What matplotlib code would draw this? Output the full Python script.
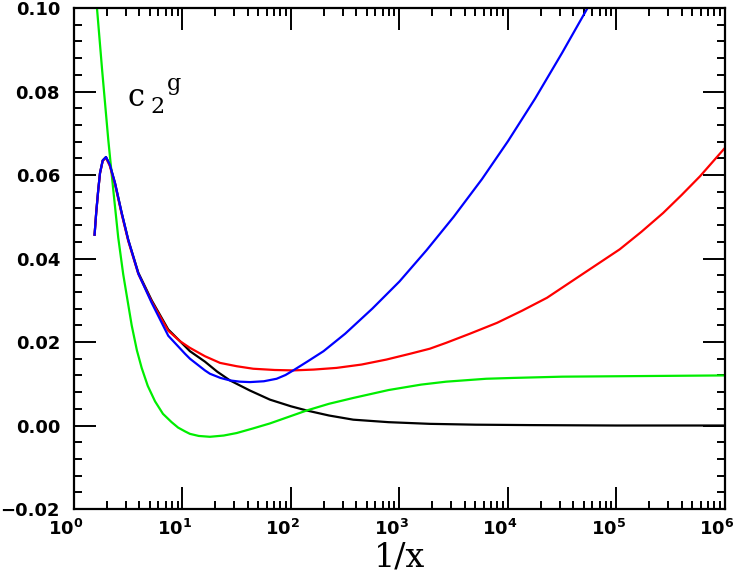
import numpy as np
import matplotlib
matplotlib.use('Agg')
import matplotlib.pyplot as plt
import matplotlib.transforms as mtrans
from matplotlib.ticker import FixedLocator, NullFormatter, MultipleLocator

# values, as (log10(1/x), c2g)
black_lx = [0.19, 0.205, 0.224, 0.24, 0.265, 0.295, 0.33, 0.378, 0.44, 0.50, 0.593, 0.716,
            0.869, 0.977, 1.069, 1.207, 1.32, 1.438, 1.62, 1.806, 2.0, 2.145, 2.35, 2.574,
            2.9, 3.28, 3.7, 4.2, 5.0, 6.0]
black_y = [0.0457, 0.051, 0.0565, 0.0605, 0.0635, 0.0643, 0.0625, 0.0581, 0.0509, 0.0445,
           0.0366, 0.0300, 0.0230, 0.0202, 0.0178, 0.0153, 0.0129, 0.0108, 0.0084, 0.0062,
           0.0046, 0.0036, 0.0024, 0.0014, 0.0008, 0.0004, 0.0002, 0.0001, 0.0, 0.0]

red_lx = [0.19, 0.205, 0.224, 0.24, 0.265, 0.295, 0.33, 0.378, 0.44, 0.50, 0.593, 0.716,
          0.869, 0.977, 1.069, 1.207, 1.346, 1.5, 1.652, 1.85, 2.021, 2.21, 2.42, 2.65,
          2.88, 3.1, 3.28, 3.43, 3.65, 3.9, 4.13, 4.36, 4.66, 5.03, 5.23, 5.43, 5.6, 5.77, 6.0]
red_y = [0.0457, 0.051, 0.0565, 0.0604, 0.0634, 0.0641, 0.0622, 0.0578, 0.0506, 0.0442,
         0.0363, 0.0297, 0.0227, 0.0202, 0.0186, 0.0166, 0.0150, 0.0142, 0.0136, 0.0133,
         0.0132, 0.0134, 0.0138, 0.0146, 0.0158, 0.0172, 0.0184, 0.0198, 0.0220, 0.0246,
         0.0275, 0.0306, 0.0358, 0.0422, 0.0464, 0.0509, 0.0552, 0.0597, 0.0665]

blue_lx = [0.19, 0.205, 0.224, 0.24, 0.265, 0.295, 0.33, 0.378, 0.44, 0.50, 0.593, 0.716,
           0.869, 1.023, 1.069, 1.207, 1.253, 1.35, 1.438, 1.53, 1.622, 1.75, 1.868, 1.95,
           2.021, 2.15, 2.3, 2.5, 2.75, 3.0, 3.25, 3.5, 3.76, 4.0, 4.25, 4.5, 4.74]
blue_y = [0.0457, 0.051, 0.0565, 0.0605, 0.0635, 0.0643, 0.0625, 0.0581, 0.0509, 0.0445,
          0.0364, 0.0294, 0.0215, 0.0172, 0.0160, 0.0132, 0.0124, 0.0114, 0.0108, 0.0105,
          0.0104, 0.0106, 0.0112, 0.0121, 0.0132, 0.0153, 0.0178, 0.0220, 0.0280, 0.0345,
          0.0420, 0.0500, 0.0590, 0.0681, 0.0783, 0.0893, 0.1003]

green_lx = [0.212, 0.26, 0.316, 0.362, 0.408, 0.454, 0.50, 0.532, 0.58, 0.624, 0.68, 0.747,
            0.82, 0.90, 0.96, 1.023, 1.069, 1.15, 1.253, 1.38, 1.50, 1.65, 1.806, 1.97,
            2.145, 2.35, 2.574, 2.9, 3.2, 3.43, 3.8, 4.05, 4.5, 5.0, 5.5, 6.0]
green_y = [0.100, 0.085, 0.0685, 0.0565, 0.0450, 0.0362, 0.0290, 0.0240, 0.0180, 0.0138,
           0.0095, 0.0058, 0.0028, 0.0008, -0.0005, -0.0014, -0.0020, -0.0025, -0.0027,
           -0.0024, -0.0018, -0.0007, 0.0005, 0.0020, 0.0036, 0.0052, 0.0066, 0.0085,
           0.0098, 0.0105, 0.0112, 0.0114, 0.0117, 0.0118, 0.0119, 0.0120]

xticks = [1, 10, 100, 1e3, 1e4, 1e5, 1e6]
xlabels = [r'$\mathbf{10^{%d}}$' % i for i in range(7)]
yticks = [-0.02, 0.0, 0.02, 0.04, 0.06, 0.08, 0.10]
ylabels = ['\u22120.02', '0.00', '0.02', '0.04', '0.06', '0.08', '0.10']

fig = plt.figure(figsize=(7.36, 5.81), dpi=100)
ax = fig.add_axes([0.1005, 0.1239, 0.8845, 0.8623])

lw = 1.6
ax.plot(10**np.array(black_lx), black_y, color='black', lw=lw)
ax.plot(10**np.array(green_lx), green_y, color='#00ee00', lw=lw)
ax.plot(10**np.array(red_lx), red_y, color='red', lw=lw)
ax.plot(10**np.array(blue_lx), blue_y, color='blue', lw=lw)

ax.set_xscale('log')
ax.set_xlim(1, 1e6)
ax.set_ylim(-0.02, 0.10)

ax.xaxis.set_major_locator(FixedLocator(xticks))
ax.set_xticklabels(xlabels)
minors = [m * 10**d for d in range(6) for m in range(2, 10)]
ax.xaxis.set_minor_locator(FixedLocator(minors))
ax.xaxis.set_minor_formatter(NullFormatter())
ax.set_yticks(yticks)
ax.set_yticklabels(ylabels)
ax.yaxis.set_minor_locator(MultipleLocator(0.004))

ax.tick_params(which='both', direction='in', top=True, right=True, width=1.4, colors='black')
ax.tick_params(which='major', length=16, labelsize=13)
ax.tick_params(axis='x', which='major', pad=7)
ax.tick_params(axis='y', which='major', pad=10)
ax.tick_params(which='minor', length=6)
for lab in ax.get_yticklabels():
    lab.set_fontweight('bold')
shift = mtrans.ScaledTranslation(-0.08, 0, fig.dpi_scale_trans)
for lab in ax.get_xticklabels():
    lab.set_transform(lab.get_transform() + shift)
for s in ax.spines.values():
    s.set_linewidth(1.6)

ax.set_xlabel('1/x', family='DejaVu Serif', fontsize=24, labelpad=2)

ax.text(0.082, 0.822, 'c', transform=ax.transAxes, family='DejaVu Serif', fontsize=22,
        ha='left', va='center')
ax.text(0.117, 0.802, '2', transform=ax.transAxes, family='DejaVu Serif', fontsize=16,
        ha='left', va='center')
ax.text(0.142, 0.848, 'g', transform=ax.transAxes, family='DejaVu Serif', fontsize=16,
        ha='left', va='center')

fig.savefig('out.png', dpi=100)
